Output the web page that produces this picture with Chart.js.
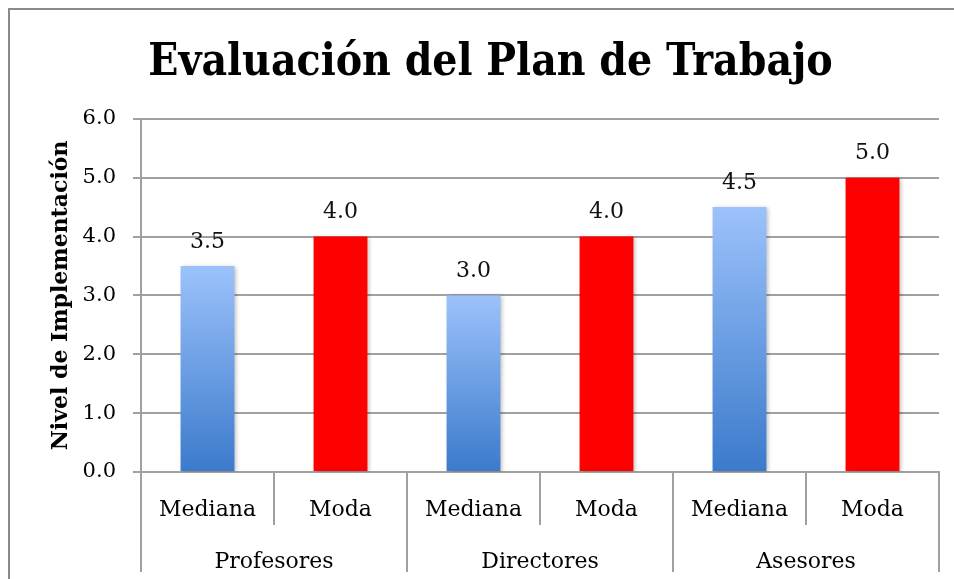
<!DOCTYPE html>
<html>
<head>
<meta charset="utf-8">
<script src="https://cdn.jsdelivr.net/npm/chart.js@4/dist/chart.umd.min.js"></script>
<style>
  html, body { margin: 0; padding: 0; background: #fff; overflow: hidden; }
</style>
</head>
<body>
<canvas id="myChart" width="954" height="579"></canvas>
<script>
const groups = ["Profesores", "Directores", "Asesores"];
const measures = ["Mediana", "Moda"];
const medianas = [3.5, 3.0, 4.5];
const modas = [4.0, 4.0, 5.0];
const yTicks = [0, 1, 2, 3, 4, 5, 6];

// one bar per (group, measure)
const labels = [];
const values = [];
groups.forEach((g, i) => {
  labels.push(measures[0]); values.push(medianas[i]);
  labels.push(measures[1]); values.push(modas[i]);
});

const serif = "'DejaVu Serif', serif";
const gridGray = "#a0a0a0";

function barColor(c) {
  if (c.dataIndex % 2 === 1) return "#ff0000";
  const chart = c.chart;
  const y = chart.scales && chart.scales.y;
  if (!chart.chartArea || !y) return "#6f9fe6";
  const top = y.getPixelForValue(c.raw);
  const bottom = y.getPixelForValue(0);
  const g = chart.ctx.createLinearGradient(0, top, 0, bottom);
  g.addColorStop(0, "#9cc2fb");
  g.addColorStop(1, "#3b7acb");
  return g;
}

const frame = {
  id: "frame",
  beforeDraw(chart) {
    const ctx = chart.ctx;
    ctx.save();
    ctx.strokeStyle = "#8a8a8a";
    ctx.lineWidth = 2;
    ctx.strokeRect(9, 9, 1000, 1000);
    ctx.restore();
  }
};

const barLabels = {
  id: "barLabels",
  beforeDatasetsDraw(chart) {
    const ctx = chart.ctx;
    ctx.save();
    ctx.shadowColor = "rgba(0,0,0,0.25)";
    ctx.shadowBlur = 4;
    ctx.shadowOffsetX = 2;
    ctx.shadowOffsetY = 1;
  },
  afterDatasetsDraw(chart) {
    const ctx = chart.ctx;
    ctx.restore();
    ctx.save();
    ctx.font = "22px " + serif;
    ctx.fillStyle = "#111";
    ctx.textAlign = "center";
    ctx.textBaseline = "bottom";
    chart.getDatasetMeta(0).data.forEach((bar, i) => {
      ctx.fillText(values[i].toFixed(1), bar.x, bar.y - 13);
    });
    ctx.restore();
  }
};

new Chart(document.getElementById("myChart"), {
  type: "bar",
  data: {
    labels: labels,
    datasets: [{
      data: values,
      backgroundColor: barColor,
      borderWidth: 0,
      categoryPercentage: 1,
      barPercentage: 0.405
    }]
  },
  options: {
    responsive: false,
    animation: false,
    layout: { padding: { top: 0, right: 15, bottom: 0, left: 42 } },
    plugins: {
      legend: { display: false },
      tooltip: { enabled: false },
      title: {
        display: true,
        text: "Evaluación del Plan de Trabajo",
        color: "#000",
        font: { family: "'DejaVu Serif Condensed', 'DejaVu Serif', serif", size: 44, weight: "bold" },
        padding: { top: 37, bottom: 29 }
      }
    },
    scales: {
      y: {
        min: 0,
        max: 6,
        afterBuildTicks: s => { s.ticks = yTicks.map(v => ({ value: v })); },
        afterFit: s => { s.width = 99; },
        ticks: {
          color: "#000",
          font: { family: serif, size: 21 },
          padding: 17,
          callback: v => Number(v).toFixed(1)
        },
        grid: { color: gridGray, lineWidth: 2, tickLength: 8 },
        border: { display: true, color: gridGray, width: 2 },
        title: {
          display: true,
          text: "Nivel de Implementación",
          color: "#000",
          font: { family: serif, size: 22, weight: "bold" },
          padding: { top: 6, bottom: 0 }
        }
      },
      x: {
        position: "bottom",
        afterFit: s => { s.height = 53; },
        ticks: {
          color: "#000",
          font: { family: serif, size: 22 },
          padding: -28,
          maxRotation: 0,
          autoSkip: false
        },
        grid: { offset: true, drawOnChartArea: false, color: gridGray, lineWidth: 2, tickLength: 53 },
        border: { display: true, color: gridGray, width: 2 }
      },
      x2: {
        type: "category",
        position: "bottom",
        labels: groups,
        offset: true,
        afterFit: s => { s.height = 54; },
        ticks: {
          color: "#000",
          font: { family: serif, size: 22 },
          padding: -23,
          maxRotation: 0,
          autoSkip: false
        },
        grid: { offset: true, drawOnChartArea: false, color: gridGray, lineWidth: 2, tickLength: 47 },
        border: { display: false }
      }
    }
  },
  plugins: [frame, barLabels]
});
</script>
</body>
</html>
